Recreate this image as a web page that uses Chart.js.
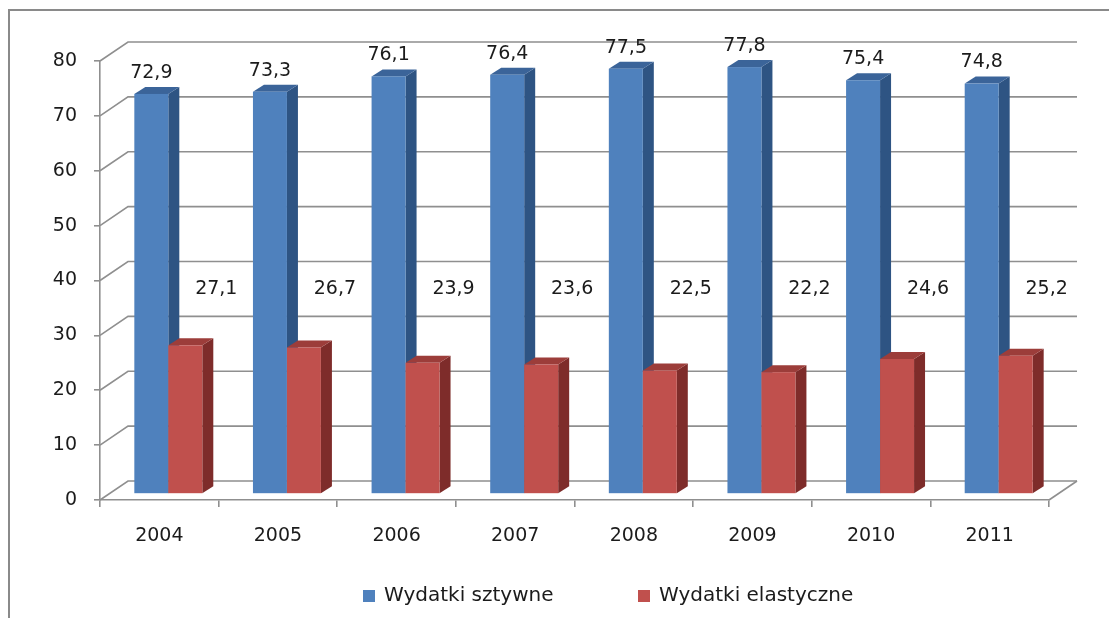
<!DOCTYPE html>
<html lang="pl">
<head>
<meta charset="utf-8">
<title>Wydatki sztywne i elastyczne 2004–2011</title>
<script src="https://cdn.jsdelivr.net/npm/chart.js@4/dist/chart.umd.min.js"></script>
<style>
  html, body { margin: 0; padding: 0; background: #ffffff; }
  #wrap { width: 1109px; height: 618px; position: relative; }
</style>
</head>
<body>
<div id="wrap"><canvas id="c" width="1109" height="618"></canvas></div>
<script>
// --- data -------------------------------------------------------------
const years = ['2004', '2005', '2006', '2007', '2008', '2009', '2010', '2011'];
const seriesNames = ['Wydatki sztywne', 'Wydatki elastyczne'];
const sztywne = [72.9, 73.3, 76.1, 76.4, 77.5, 77.8, 75.4, 74.8];
const elastyczne = [27.1, 26.7, 23.9, 23.6, 22.5, 22.2, 24.6, 25.2];
const yTicks = { min: 0, max: 80, step: 10 };

// --- styling ----------------------------------------------------------
const FONT = 'DejaVu Sans';
const TEXT = '#1b1b1b';
const GRID = '#8f8f8f';
// front / top / side colours of each series' boxes
const faces = [
  { front: '#4f81bd', top: '#3b6499', side: '#2e5483' },
  { front: '#c0504d', top: '#9c3d3a', side: '#7e2c2a' }
];
const WALL = { dx: 28, dy: -19 };   // depth of the floor and back wall
const BAR_OFF = { dx: 9, dy: -6 };  // front face of boxes, set back from the axis plane
const BAR_D = { dx: 11, dy: -7 };   // depth of each box

const fmt = v => v.toFixed(1).replace('.', ',');

const threeD = {
  id: 'threeD',
  beforeDatasetsDraw(chart) {
    const { ctx, chartArea: a, scales: { y } } = chart;
    ctx.save();
    ctx.strokeStyle = GRID;
    ctx.lineWidth = 1.6;
    // left wall diagonals + back wall gridlines
    y.ticks.forEach(t => {
      const py = y.getPixelForValue(t.value);
      ctx.beginPath();
      ctx.moveTo(a.left, py);
      ctx.lineTo(a.left + WALL.dx, py + WALL.dy);
      ctx.lineTo(a.right + WALL.dx, py + WALL.dy);
      ctx.stroke();
    });
    // right edge of the floor
    const p0 = y.getPixelForValue(0);
    ctx.beginPath();
    ctx.moveTo(a.right, p0);
    ctx.lineTo(a.right + WALL.dx, p0 + WALL.dy);
    ctx.stroke();
    ctx.restore();
  },
  afterDatasetsDraw(chart) {
    const { ctx, chartArea: a } = chart;
    const metas = chart.data.datasets.map((d, i) => chart.getDatasetMeta(i));
    ctx.save();
    for (let j = 0; j < chart.data.labels.length; j++) {
      metas.forEach((meta, i) => {
        const el = meta.data[j];
        const f = faces[i];
        const x0 = el.x - el.width / 2 + BAR_OFF.dx;
        const x1 = el.x + el.width / 2 + BAR_OFF.dx;
        const yt = el.y + BAR_OFF.dy;
        const yb = el.base + BAR_OFF.dy;
        // side face
        ctx.fillStyle = f.side;
        ctx.beginPath();
        ctx.moveTo(x1, yt);
        ctx.lineTo(x1 + BAR_D.dx, yt + BAR_D.dy);
        ctx.lineTo(x1 + BAR_D.dx, yb + BAR_D.dy);
        ctx.lineTo(x1, yb);
        ctx.closePath();
        ctx.fill();
        // top face
        ctx.fillStyle = f.top;
        ctx.beginPath();
        ctx.moveTo(x0, yt);
        ctx.lineTo(x0 + BAR_D.dx, yt + BAR_D.dy);
        ctx.lineTo(x1 + BAR_D.dx, yt + BAR_D.dy);
        ctx.lineTo(x1, yt);
        ctx.closePath();
        ctx.fill();
        // front face
        ctx.fillStyle = f.front;
        ctx.fillRect(x0, yt, x1 - x0, yb - yt);
      });
    }
    // value labels
    ctx.fillStyle = TEXT;
    ctx.font = '19px "' + FONT + '"';
    ctx.textAlign = 'center';
    ctx.textBaseline = 'middle';
    metas.forEach((meta, i) => {
      const values = chart.data.datasets[i].data;
      meta.data.forEach((el, j) => {
        const cx = el.x + BAR_OFF.dx;
        if (i === 0) {
          ctx.fillText(fmt(values[j]), cx, el.y + BAR_OFF.dy - 21);
        } else {
          ctx.fillText(fmt(values[j]), cx + 31, a.top + 228);
        }
      });
    });
    ctx.restore();
  },
  afterDraw(chart) {
    const { ctx } = chart;
    ctx.save();
    // frame
    ctx.strokeStyle = '#8a8a8a';
    ctx.lineWidth = 2;
    ctx.beginPath();
    ctx.moveTo(9, 618);
    ctx.lineTo(9, 10);
    ctx.lineTo(1109, 10);
    ctx.stroke();
    // legend
    const items = [{ x: 363 }, { x: 638 }];
    ctx.font = '20px "' + FONT + '"';
    ctx.textBaseline = 'middle';
    ctx.textAlign = 'left';
    chart.data.datasets.forEach((ds, i) => {
      const lx = items[i].x;
      ctx.fillStyle = faces[i].front;
      ctx.fillRect(lx, 590, 12, 12);
      ctx.fillStyle = TEXT;
      ctx.fillText(ds.label, lx + 21, 596);
    });
    ctx.restore();
  }
};

new Chart(document.getElementById('c'), {
  type: 'bar',
  data: {
    labels: years,
    datasets: [
      { label: seriesNames[0], data: sztywne, backgroundColor: 'rgba(0,0,0,0)' },
      { label: seriesNames[1], data: elastyczne, backgroundColor: 'rgba(0,0,0,0)' }
    ]
  },
  options: {
    responsive: false,
    animation: false,
    events: [],
    layout: { padding: { left: 0, top: 61, right: 60, bottom: 0 } },
    datasets: { bar: { categoryPercentage: 0.573, barPercentage: 1.0 } },
    plugins: { legend: { display: false }, tooltip: { enabled: false } },
    scales: {
      x: {
        afterFit(scale) { scale.height = 118; },
        grid: { drawOnChartArea: false, color: GRID, lineWidth: 1.6, tickLength: 7, offset: true },
        border: { display: true, color: GRID, width: 1.6 },
        ticks: { color: TEXT, font: { family: FONT, size: 19 }, padding: 18 }
      },
      y: {
        min: yTicks.min,
        max: yTicks.max,
        afterFit(scale) { scale.width = 100; },
        grid: { drawOnChartArea: false, color: GRID, lineWidth: 1.6, tickLength: 6 },
        border: { display: true, color: GRID, width: 1.6 },
        ticks: { stepSize: yTicks.step, color: TEXT, font: { family: FONT, size: 19 }, padding: 17 }
      }
    }
  },
  plugins: [threeD]
});
</script>
</body>
</html>
